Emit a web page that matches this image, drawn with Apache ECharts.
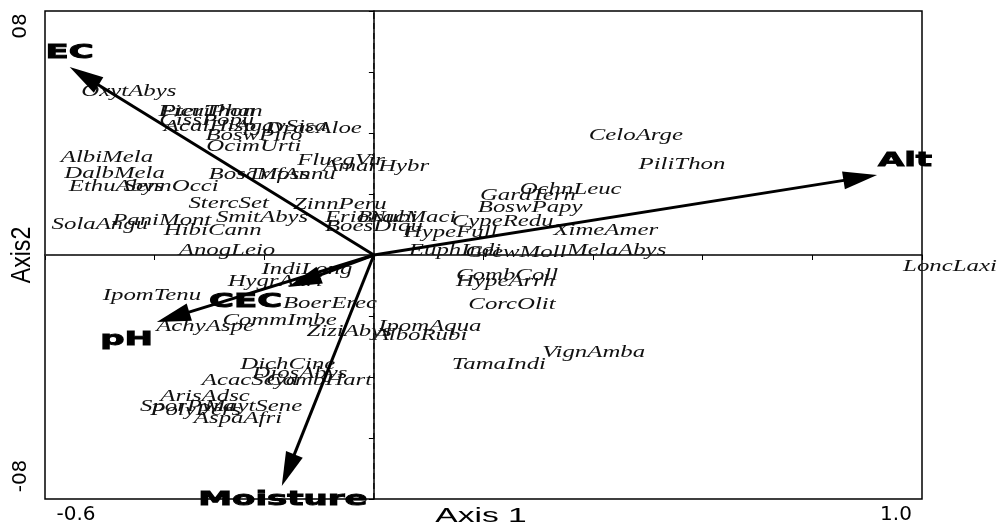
<!DOCTYPE html>
<html>
<head>
<meta charset="utf-8">
<script src="https://cdn.jsdelivr.net/npm/echarts@6/dist/echarts.min.js"></script>
<style>
html,body{margin:0;padding:0;background:#fff}
#chart{width:1002px;height:531px}
</style>
</head>
<body>
<div id="chart"></div>
<script>
// species scores on axis 1 / axis 2
const speciesNames = ['OxytAbys','PteriPhan','FicuThon','CissPopu','AcalHisp','AgavSisa','DracAloe','BoswPiro','OcimUrti',
  'AlbiMela','DalbMela','FluegVir','AmarHybr','BoscMoss','TrifAnnu','EthuAbys','SennOcci','StercSet','SolaAngu','PaniMont',
  'SmitAbys','HibiCann','AnogLeio','ZinnPeru','ErioNubi','BracMaci','BoesDiqu','HypeFull','CypeRedu','XimeAmer','GrewMoll',
  'MelaAbys','EuphIndi','GardTern','OchnLeuc','BoswPapy','CeloArge','PiliThon','LoncLaxi','CombColl','HypeArrh','CorcOlit',
  'VignAmba','TamaIndi','IpomAqua','AlboRubi','IndiLong','HygrAuri','IpomTenu','BoerErec','CommImbe','AchyAspe','ZiziAbys',
  'DichCine','DiosAbys','AcacSeya','CombHart','ArisAdsc','SporPyra','PolyPers','MaytSene','AspaAfri']
const speciesX = [-0.447,-0.296,-0.305,-0.305,-0.299,-0.170,-0.110,-0.219,-0.219,
  -0.487,-0.473,-0.060,0.004,-0.210,-0.150,-0.470,-0.370,-0.265,-0.500,-0.387,
  -0.204,-0.294,-0.268,-0.062,-0.005,0.060,0.000,0.140,0.235,0.423,0.259,
  0.443,0.148,0.281,0.359,0.285,0.478,0.562,1.051,0.243,0.240,0.252,
  0.401,0.228,0.102,0.085,-0.122,-0.180,-0.405,-0.080,-0.172,-0.308,-0.045,
  -0.157,-0.135,-0.226,-0.100,-0.308,-0.340,-0.325,-0.220,-0.248]
const speciesY = [0.534,0.469,0.469,0.439,0.420,0.420,0.413,0.390,0.354,
  0.318,0.266,0.308,0.289,0.262,0.262,0.223,0.223,0.167,0.098,0.111,
  0.121,0.079,0.013,0.164,0.121,0.121,0.092,0.072,0.108,0.079,0.007,
  0.013,0.013,0.193,0.213,0.154,0.390,0.295,-0.039,-0.069,-0.089,-0.164,
  -0.321,-0.361,-0.236,-0.266,-0.049,-0.089,-0.134,-0.161,-0.216,-0.236,-0.252,
  -0.361,-0.390,-0.413,-0.413,-0.466,-0.498,-0.510,-0.498,-0.538]

// environmental variables: arrow tips and label positions
const envNames = ['EC','Alt','Moisture','pH','CEC']
const envX = [-0.555, 0.918, -0.168, -0.396, -0.157]
const envY = [0.616, 0.262, -0.757, -0.220, -0.105]
const envLabelX = [-0.555, 0.969, -0.166, -0.451, -0.234]
const envLabelY = [0.662, 0.308, -0.803, -0.279, -0.154]

const xRange = [-0.6, 1.0]
const yRange = [-0.8, 0.8]
const xTicks = [-0.6, 1.0]
const xTickLabels = ['-0.6', '1.0']
const yTicks = [-0.8, 0.8]
const yTickLabels = ['-08', '08']

const pick = (ticks, v) => ticks.findIndex(t => Math.abs(t - v) < 1e-6)

const chart = echarts.init(document.getElementById('chart'))

const speciesData = speciesNames.map((n, i) => [speciesX[i], speciesY[i]])
const envData = envNames.map((n, i) => [envX[i], envY[i], envLabelX[i], envLabelY[i]])
// the two zero lines, from one end of each axis to the other
const zeroLines = [[0, yRange[0], 0, yRange[1]], [xRange[0], 0, xRange[1], 0]]

const option = {
  animation: false,
  grid: { left: 45, right: 80, top: 11, bottom: 32, show: true, borderColor: '#000', borderWidth: 1.5 },
  xAxis: {
    type: 'value', min: xRange[0], max: xRange[1], interval: 0.2,
    splitLine: { show: false },
    axisLine: { lineStyle: { color: '#000', width: 1.5 } },
    axisTick: { length: 5, lineStyle: { color: '#000' } },
    axisLabel: {
      margin: 6, color: '#000',
      formatter: v => {
        const i = pick(xTicks, v)
        if (i < 0) return ''
        return (i === 0 ? '{lo|' : '{hi|') + xTickLabels[i] + '}'
      },
      rich: {
        lo: { fontSize: 20, fontFamily: 'DejaVu Sans', color: '#000', padding: [0, 0, 0, 62] },
        hi: { fontSize: 20, fontFamily: 'DejaVu Sans', color: '#000', padding: [0, 52, 0, 0] }
      }
    }
  },
  yAxis: {
    type: 'value', min: yRange[0], max: yRange[1], interval: 0.2,
    splitLine: { show: false },
    axisLine: { lineStyle: { color: '#000', width: 1.5 } },
    axisTick: { length: 5, lineStyle: { color: '#000' } },
    axisLabel: {
      rotate: 90, margin: 14, color: '#000',
      formatter: v => {
        const i = pick(yTicks, v)
        if (i < 0) return ''
        return (i === 0 ? '{lo|' : '{hi|') + yTickLabels[i] + '}'
      },
      rich: {
        lo: { fontSize: 20, fontFamily: 'DejaVu Sans', color: '#000', padding: [0, 0, 0, 46] },
        hi: { fontSize: 20, fontFamily: 'DejaVu Sans', color: '#000', padding: [0, 30, 0, 0] }
      }
    }
  },
  graphic: [
    { type: 'text', x: 481, y: 516, scaleX: 1.6, z: 10,
      style: { text: 'Axis 1', font: '21px "Liberation Sans"', fill: '#000', align: 'center', verticalAlign: 'middle' } },
    { type: 'text', x: 22, y: 255, rotation: Math.PI / 2, scaleX: 1.1, scaleY: 1.35, z: 10,
      style: { text: 'Axis2', font: '21px "Liberation Sans"', fill: '#000', align: 'center', verticalAlign: 'middle' } }
  ],
  series: [
    {
      // dashed zero lines, built from short strokes along the axis span
      type: 'custom', data: zeroLines, silent: true, z: 1,
      renderItem: (params, api) => {
        const a = api.coord([api.value(0), api.value(1)])
        const b = api.coord([api.value(2), api.value(3)])
        const len = Math.hypot(b[0] - a[0], b[1] - a[1])
        const ux = (b[0] - a[0]) / len, uy = (b[1] - a[1]) / len
        const on = 6, off = 4
        const color = params.dataIndex === 0 ? '#000' : '#444'
        const kids = []
        for (let s = 0; s < len; s += on + off) {
          const e = Math.min(s + on, len)
          kids.push({
            type: 'line',
            shape: { x1: a[0] + ux * s, y1: a[1] + uy * s, x2: a[0] + ux * e, y2: a[1] + uy * e },
            style: { stroke: color, lineWidth: 1.2 }
          })
        }
        return { type: 'group', children: kids }
      }
    },
    {
      // species labels
      type: 'custom', data: speciesData, clip: false, z: 3,
      renderItem: (params, api) => {
        const p = api.coord([api.value(0), api.value(1)])
        return {
          type: 'text', x: p[0], y: p[1], scaleX: 1.55,
          style: {
            text: speciesNames[params.dataIndex],
            font: 'italic 16px "Liberation Serif"',
            fill: '#111', align: 'center', verticalAlign: 'middle'
          }
        }
      }
    },
    {
      // biplot arrows
      type: 'custom', data: envData, clip: false, z: 4,
      renderItem: (params, api) => {
        const o = api.coord([0, 0])
        const t = api.coord([api.value(0), api.value(1)])
        const l = api.coord([api.value(2), api.value(3)])
        const dx = t[0] - o[0], dy = t[1] - o[1]
        const len = Math.hypot(dx, dy)
        const ux = dx / len, uy = dy / len
        const hl = 34, hw = 9
        const bx = t[0] - ux * hl, by = t[1] - uy * hl
        return {
          type: 'group',
          children: [
            { type: 'line', shape: { x1: o[0], y1: o[1], x2: bx + ux * 2, y2: by + uy * 2 },
              style: { stroke: '#000', lineWidth: 3 } },
            { type: 'polygon',
              shape: { points: [[t[0], t[1]], [bx - uy * hw, by + ux * hw], [bx + uy * hw, by - ux * hw]] },
              style: { fill: '#000' } },
            { type: 'text', x: l[0], y: l[1], scaleX: 1.7,
              style: { text: envNames[params.dataIndex], font: 'bold 20px "DejaVu Sans"', fill: '#000',
                stroke: '#000', lineWidth: 0.9, align: 'center', verticalAlign: 'middle' } }
          ]
        }
      }
    }
  ]
}

chart.setOption(option)
</script>
</body>
</html>
